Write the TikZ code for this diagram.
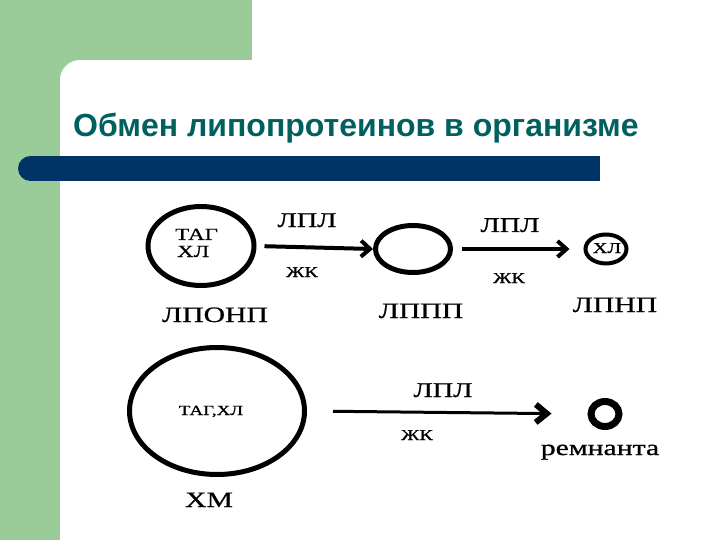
\documentclass[tikz,border=0pt]{standalone}
\usepackage{fontspec}
\setmainfont{Liberation Serif}
\newfontfamily\ser[FakeStretch=1.35,FakeBold=0.8]{Liberation Serif}
\newfontfamily\ttl{Liberation Sans}
\usetikzlibrary{shapes.geometric,arrows.meta}
\definecolor{bggreen}{RGB}{153,204,153}
\definecolor{barblue}{RGB}{0,51,102}
\definecolor{titlecol}{RGB}{0,96,96}
\tikzset{
  oval/.style={draw, ellipse, inner sep=0pt},
  big/.style={inner sep=0pt, anchor=base, font=\ser\fontsize{22pt}{24pt}\selectfont},
  enz/.style={inner sep=0pt, anchor=base, font=\ser\fontsize{21pt}{23pt}\selectfont},
  small/.style={inner sep=0pt, anchor=base, font=\ser\fontsize{15pt}{17pt}\selectfont},
  arr/.style={line width=4pt, -{Straight Barb[length=9pt,width=16pt,line width=4pt]}},
}
\begin{document}
\begin{tikzpicture}[x=1pt,y=-1pt]
\useasboundingbox (0,0) rectangle (720,540);
\fill[white] (0,0) rectangle (720,540);
% background decoration
\fill[bggreen] (0,0) rectangle (252,60);
\fill[bggreen] (0,0) rectangle (60,540);
\fill[bggreen] (60,60) rectangle (80,80);
\fill[white] (80,80) circle[radius=20pt];
\fill[barblue] (30.5,168.5) circle[radius=12.5pt];
\fill[barblue] (30.5,156) rectangle (600,181);
% title
\node[inner sep=0pt, anchor=base west, text=titlecol,
      font=\ttl\bfseries\fontsize{32pt}{36pt}\selectfont] (title) at (73,137)
  {Обмен липопротеинов в организме};
% ellipses
\node[oval, line width=5pt, minimum width=106pt, minimum height=79pt] (c1) at (201,246) {};
\node[oval, line width=5pt, minimum width=75pt, minimum height=47pt] (c2) at (413,249) {};
\node[oval, line width=4pt, minimum width=41pt, minimum height=29pt] (c3) at (606,249) {};
\node[oval, line width=5pt, minimum width=175pt, minimum height=127pt] (c4) at (217,411) {};
\node[oval, line width=7pt, minimum width=28pt, minimum height=25pt] (c5) at (605,414) {};
% texts inside
\node[inner sep=0pt, anchor=base west, font=\ser\fontsize{17pt}{19pt}\selectfont] (t1) at (175,240) {ТАГ};
\node[inner sep=0pt, anchor=base west, font=\ser\fontsize{17pt}{19pt}\selectfont] (t2) at (177,257) {ХЛ};
\node[small] (t3) at (607,253) {ХЛ};
\node[inner sep=0pt, anchor=base, font=\ser\fontsize{14pt}{16pt}\selectfont] (t4) at (211,415) {ТАГ,ХЛ};
% names
\node[big] (n1) at (215,322) {ЛПОНП};
\node[big] (n2) at (421,318) {ЛППП};
\node[big] (n3) at (615,312) {ЛПНП};
\node[big] (n4) at (209,507) {ХМ};
\node[big] (n5) at (600,455) {ремнанта};
% arrows
\draw[arr, shorten <=8pt] (c1.east) -- (c2.west);
\draw[arr, shorten <=9pt, shorten >=14pt] (c2.east) -- (c3.west);
\draw[line width=3pt, shorten <=26pt, shorten >=36pt,
      -{Straight Barb[length=11pt,width=18pt,line width=6pt]}] (c4.east) -- (c5.west);
% arrow labels
\node[enz] (l1) at (307,227) {ЛПЛ};
\node[small] (k1) at (302,277) {ЖК};
\node[enz] (l2) at (510,232) {ЛПЛ};
\node[small] (k2) at (509,283) {ЖК};
\node[enz] (l3) at (443,397) {ЛПЛ};
\node[small] (k3) at (417,440) {ЖК};
\end{tikzpicture}
\end{document}
